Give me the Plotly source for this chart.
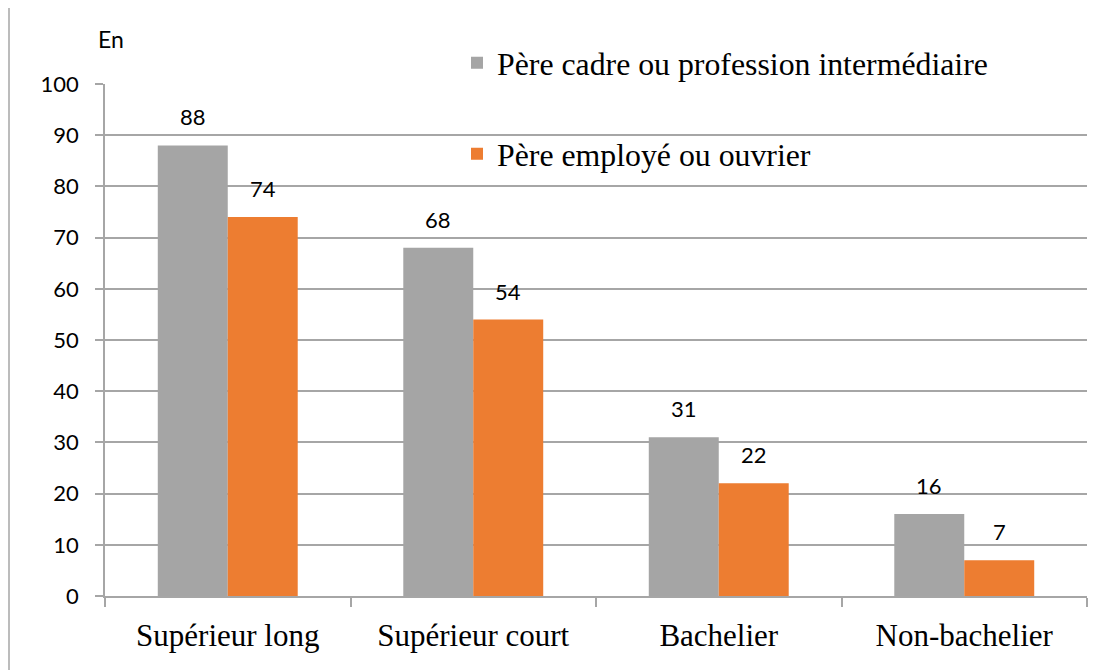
import plotly.graph_objects as go

categories = ["Supérieur long", "Supérieur court", "Bachelier", "Non-bachelier"]
series_names = ["Père cadre ou profession intermédiaire", "Père employé ou ouvrier"]
cadre_values = [88, 68, 31, 16]
ouvrier_values = [74, 54, 22, 7]
y_ticks = [0, 10, 20, 30, 40, 50, 60, 70, 80, 90, 100]

# page body has an 8px margin: figure is drawn offset by 8px
OFF = 8
W, H = 1114 - OFF, 670 - OFF
L, R, T, B = 105 - OFF, 1114 - 1087, 84 - OFF, 670 - 596
pw = W - L - R
ph = H - T - B

def px_x(p):
    return (p - OFF - L) / pw

def px_y(p):
    return (H - B - (p - OFF)) / ph

GRAY = "#A5A5A5"
ORANGE = "#ED7D31"
GRID = "#A6A6A6"
SANS = "Lato, 'Open Sans', sans-serif"
SERIF = "'Liberation Serif', 'Times New Roman', serif"

fig = go.Figure()
fig.add_trace(go.Bar(x=categories, y=cadre_values, name=series_names[0],
                     marker=dict(color=GRAY, line=dict(width=0)), legend="legend"))
fig.add_trace(go.Bar(x=categories, y=ouvrier_values, name=series_names[1],
                     marker=dict(color=ORANGE, line=dict(width=0)), legend="legend2"))

annotations = []
for vals, shift in ((cadre_values, -35), (ouvrier_values, 35)):
    for c, v in zip(categories, vals):
        annotations.append(dict(x=c, y=v, xref="x", yref="y", text=str(v), showarrow=False,
                                xshift=shift, yshift=13, yanchor="bottom",
                                font=dict(family=SANS, size=22, color="#000000")))
annotations.append(dict(x=px_x(96), y=px_y(39), xref="paper", yref="paper", text="En",
                        showarrow=False, xanchor="left", yanchor="middle",
                        font=dict(family=SANS, size=23, color="#000000")))

fig.update_layout(
    width=W, height=H,
    margin=dict(l=L, r=R, t=T, b=B),
    paper_bgcolor="white", plot_bgcolor="white",
    barmode="group", bargap=0.43, bargroupgap=0,
    showlegend=True,
    legend=dict(x=px_x(457), y=px_y(63), xanchor="left", yanchor="middle",
                font=dict(family=SERIF, size=31.8, color="#000000"),
                bgcolor="rgba(0,0,0,0)", borderwidth=0),
    legend2=dict(x=px_x(457), y=px_y(154), xanchor="left", yanchor="middle",
                 font=dict(family=SERIF, size=31.8, color="#000000"),
                 bgcolor="rgba(0,0,0,0)", borderwidth=0),
    annotations=annotations,
    shapes=[
        dict(type="line", xref="paper", yref="paper", x0=px_x(9), x1=px_x(9),
             y0=px_y(5), y1=px_y(690), line=dict(color="#A6A6A6", width=1.5)),
        dict(type="line", xref="paper", yref="paper", x0=px_x(9), x1=px_x(1130),
             y0=px_y(5), y1=px_y(5), line=dict(color="#A6A6A6", width=1.5)),
    ],
)
fig.update_xaxes(
    type="category", showgrid=False, showline=True, linecolor=GRID, linewidth=1.5,
    ticks="outside", tickson="boundaries", ticklen=9, tickcolor=GRID, tickwidth=1.5,
    tickfont=dict(family=SERIF, size=31, color="#000000"), ticklabelstandoff=11,
    zeroline=False,
)
fig.update_yaxes(
    range=[0, 100], tickvals=y_ticks, showgrid=True, gridcolor=GRID, gridwidth=1.5,
    showline=True, linecolor=GRID, linewidth=1.5, zeroline=False,
    ticks="outside", ticklen=8, tickcolor=GRID, tickwidth=1.5,
    tickfont=dict(family=SANS, size=22, color="#000000"), ticklabelstandoff=12,
)

fig.write_html("out.html")
